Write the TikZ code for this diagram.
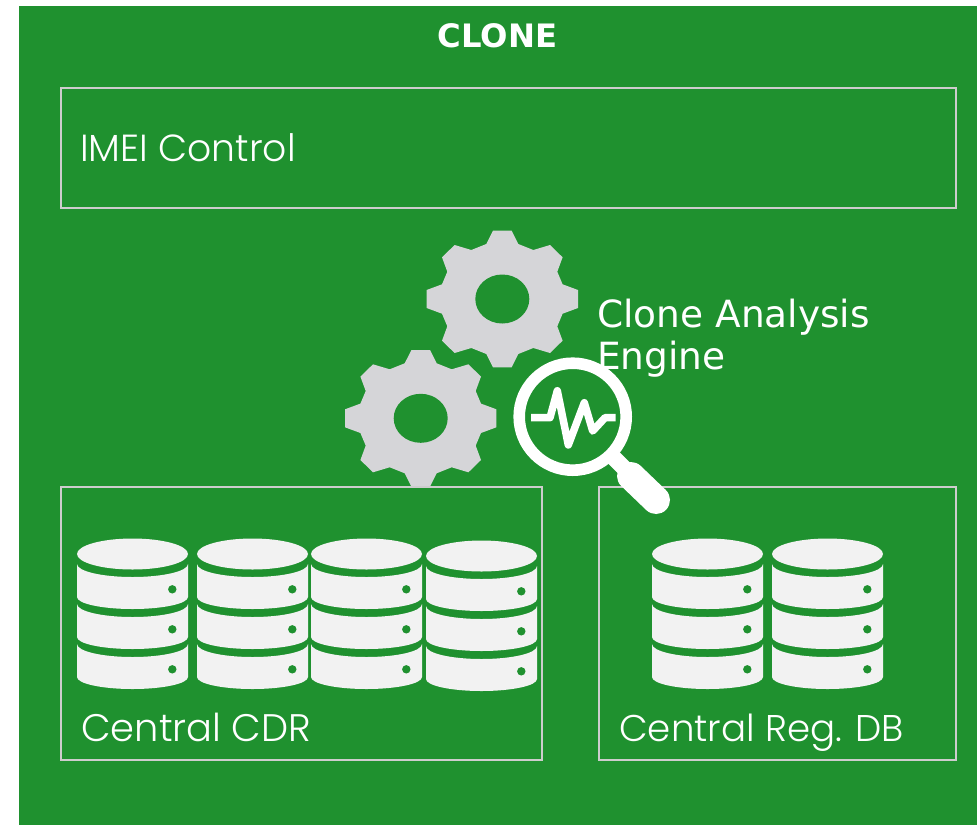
\documentclass[tikz,border=0pt]{standalone}
\usepackage{fontspec}
\setmainfont{DejaVu Sans}
\newfontfamily\thinfont{Poppins Light}
\usetikzlibrary{positioning}

\definecolor{panelgreen}{HTML}{1F912F}
\definecolor{geargray}{HTML}{D5D5D8}
\definecolor{diskwhite}{HTML}{F2F2F2}
\definecolor{frameline}{HTML}{CDCDCD}

\tikzset{
    frame/.style={draw=frameline, line width=2.1pt},
    paneltext/.style={text=white, anchor=base west, inner sep=0pt, font=\thinfont\fontsize{#1}{32}\selectfont},
    enginetext/.style={text=white, anchor=base west, inner sep=0pt, font=\fontsize{28.1}{32}\selectfont},
    pics/gear/.style={code={
        \fill[geargray] (9.3,-68.3) -- (16,-55) -- (31,-49) -- (47.7,-54) -- (60.3,-41.7) -- (55,-27.3) -- (60.3,-14.7)
            -- (75.7,-9) -- (75.7,9) -- (60.3,14.7) -- (55,27.3) -- (60.3,41.7) -- (47.7,54) -- (31,49) -- (16,55)
            -- (9.3,68.3) -- (-9.3,68.3) -- (-16,55) -- (-31,49) -- (-47.7,54) -- (-60.3,41.7) -- (-55,27.3) -- (-60.3,14.7)
            -- (-75.7,9) -- (-75.7,-9) -- (-60.3,-14.7) -- (-55,-27.3) -- (-60.3,-41.7) -- (-47.7,-54) -- (-31,-49) -- (-16,-55)
            -- (-9.3,-68.3) -- cycle;
        \fill[panelgreen] (0,0) ellipse [x radius=27, y radius=24.5];
    }},
    pics/dbstack/.style={code={
        \fill[diskwhite] (0,0) ellipse [x radius=55.5, y radius=15.5];
        \foreach \off in {0,40,80} {
            \fill[diskwhite] (-55.5,10+\off) arc [start angle=180, end angle=0, x radius=55.5, y radius=13]
                -- (55.5,43+\off) arc [start angle=0, end angle=180, x radius=55.5, y radius=12] -- cycle;
            \fill[panelgreen] (39.8,35.3+\off) circle [radius=4.2];
        }
    }},
}

\begin{document}
\begin{tikzpicture}[x=0.75pt, y=-0.75pt]
    \useasboundingbox (0,0) rectangle (977,825);

    % Green panel
    \fill[panelgreen] (19,6) rectangle (977,825);
    \node[text=white, inner sep=0pt, font=\bfseries\fontsize{24.2}{28}\selectfont] (title) at (497.5,36) {CLONE};

    % Gears
    \pic at (502.3,299) {gear};
    \pic at (420.7,418.3) {gear};

    % Boxes
    \draw[frame] (61,88) rectangle (956,208);
    \draw[frame] (61,487) rectangle (542,760);
    \draw[frame] (599,487) rectangle (956,760);

    % Labels
    \node[paneltext=28.3] (imei) at (80,161) {IMEI Control};
    \node[paneltext=28.8] (cdr) at (81,741.5) {Central CDR};
    \node[paneltext=27.9] (regdb) at (619,741.5) {Central Reg. DB};
    \node[enginetext] (engine) at (597,327) {Clone Analysis};
    \node[enginetext] (engine2) at (597,369) {Engine};

    % Magnifier
    \draw[white, line width=8.7pt] (572.7,416.7) circle [radius=53.5];
    \draw[white, line width=12pt] (610,454) -- (632,476);
    \draw[white, line width=21pt, line cap=round] (631,476) -- (656,500);
    \draw[white, line width=5.6pt, line join=round] (531,417.7) -- (550,417.7) -- (557.3,390.7) -- (568.3,445) -- (584.3,402.7) -- (592.7,431) -- (605,417.7) -- (615.7,417.7);

    % Databases
    \foreach \cx/\cy in {132.5/554, 252.5/554, 366.5/554, 481.5/556, 707.5/554, 827.5/554} {
        \pic at (\cx,\cy) {dbstack};
    }
\end{tikzpicture}
\end{document}
